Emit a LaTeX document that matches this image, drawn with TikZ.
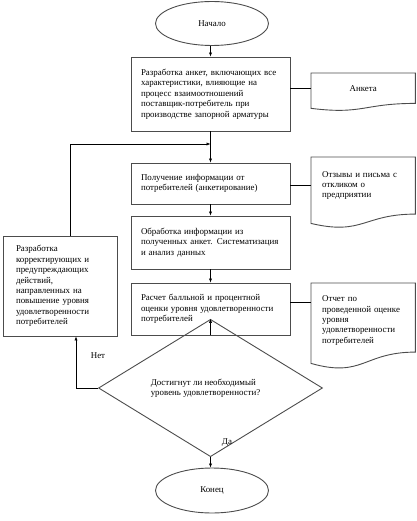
\documentclass[tikz,border=0pt]{standalone}
\usepackage{fontspec}
\setmainfont{Liberation Serif}
\usetikzlibrary{shapes.geometric,arrows.meta,calc}
\newcommand\docoutline[2]{%
  \draw[boxline] (#1.north west) -- (#1.north east) -- (#1.south east)
    .. controls (#1.south) and ($(#1.south)+(0,{0.305*#2})$)
    .. ($(#1.south west)+(0,{0.132*#2})$) -- cycle;}
\begin{document}
\begin{tikzpicture}[x=1pt,y=-1pt,
  font=\fontsize{8.9}{10.4}\selectfont,
  boxline/.style={draw=black!70,line width=0.9pt},
  procbox/.style={boxline,rectangle,minimum width=159pt,text width=143pt,inner xsep=8pt,align=left},
  term/.style={boxline,ellipse,minimum width=113pt,minimum height=44pt,inner sep=0pt},
  docbox/.style={rectangle,minimum width=104pt,text width=90pt,inner xsep=7pt,inner ysep=0pt,align=left,anchor=north west},
  conn/.style={draw=black,line width=0.6pt},
  arr/.style={conn,-{Latex[length=4pt,width=3.2pt]}},
  lbl/.style={inner sep=0pt}
]
\useasboundingbox (0,0) rectangle (416,521);

\node[term] (start) at (212,23.5) {Начало};
\node[procbox,minimum height=74pt] (b1) at (210.5,94) {\hspace*{2pt}Разработка анкет, включающих все\\\hspace*{2pt}характеристики, влияющие на\\\hspace*{2pt}процесс взаимоотношений\\\hspace*{2pt}поставщик-потребитель при\\\hspace*{2pt}производстве запорной арматуры};
\node[procbox,minimum height=41pt] (b2) at (210.5,183.5) {\hspace*{2pt}Получение информации от\\\hspace*{2pt}потребителей (анкетирование)};
\node[procbox,minimum height=53pt] (b3) at (210.5,242.5) {\hspace*{2pt}Обработка информации из\\\hspace*{2pt}полученных анкет. Систематизация\\\hspace*{2pt}и анализ данных};
\node[procbox,minimum height=52pt] (b4) at (210.5,309) {\hspace*{2pt}Расчет балльной и процентной\\\hspace*{2pt}оценки уровня удовлетворенности\\\hspace*{2pt}потребителей};
\node[boxline,diamond,minimum width=224pt,minimum height=78pt,inner sep=0pt,align=left,font=\fontsize{8.9}{9.6}\selectfont] (dia) at (210.5,388) {Достигнут ли необходимый\\уровень удовлетворенности?\hspace*{10pt}};
\node[term,minimum height=45pt] (end) at (212,490.5) {Конец};
\node[boxline,rectangle,minimum width=114pt,minimum height=100pt,text width=100pt,inner xsep=7pt,align=left] (lb) at (60,286) {\hspace*{6pt}Разработка\\\hspace*{6pt}корректирующих и\\\hspace*{6pt}предупреждающих\\\hspace*{6pt}действий,\\\hspace*{6pt}направленных на\\\hspace*{6pt}повышение уровня\\\hspace*{6pt}удовлетворенности\\\hspace*{6pt}потребителей};

\node[docbox,minimum height=30pt,align=center] (d1) at (311,73) {Анкета};
\node[docbox,minimum height=56.7pt] (d2) at (311,157) {\hspace*{4pt}Отзывы и письма с\\\hspace*{4pt}откликом о\\\hspace*{4pt}предприятии};
\node[docbox,minimum height=68.7pt,yshift=-3pt] (d3t) at (311,283) {\hspace*{4pt}Отчет по\\\hspace*{4pt}проведенной оценке\\\hspace*{4pt}уровня\\\hspace*{4pt}удовлетворенности\\\hspace*{4pt}потребителей};
\node[docbox,minimum height=68.7pt] (d3) at (311,283) {};
\docoutline{d1}{37.5}
\docoutline{d2}{70.7}
\docoutline{d3}{85.6}

\draw[arr] (b1.north |- start.south) -- (b1.north);
\draw[arr] (b1) -- (b2);
\draw[arr] (b2) -- (b3);
\draw[arr] (b3) -- (b4);
\draw[arr] (b4) -- (dia);
\draw[arr] (dia.south) -- (dia.south |- end.north);

\coordinate (j) at (210.5,144);
\draw[arr] ([xshift=10pt]lb.north) |- (j);
\draw[arr] (dia.west) -| ([xshift=16pt]lb.south);

\draw[conn] (b1.east |- d1.west) -- (d1.west);
\draw[conn] (b2.east |- d2.west) -- (d2.west);
\coordinate (c3) at ($(b4.east)+(0,-7)$);
\draw[conn] (c3) -- (c3 -| d3.west);

\node[lbl] (no) at (98,356) {Нет};
\node[lbl] (yes) at (227,443) {Да};
\end{tikzpicture}
\end{document}
